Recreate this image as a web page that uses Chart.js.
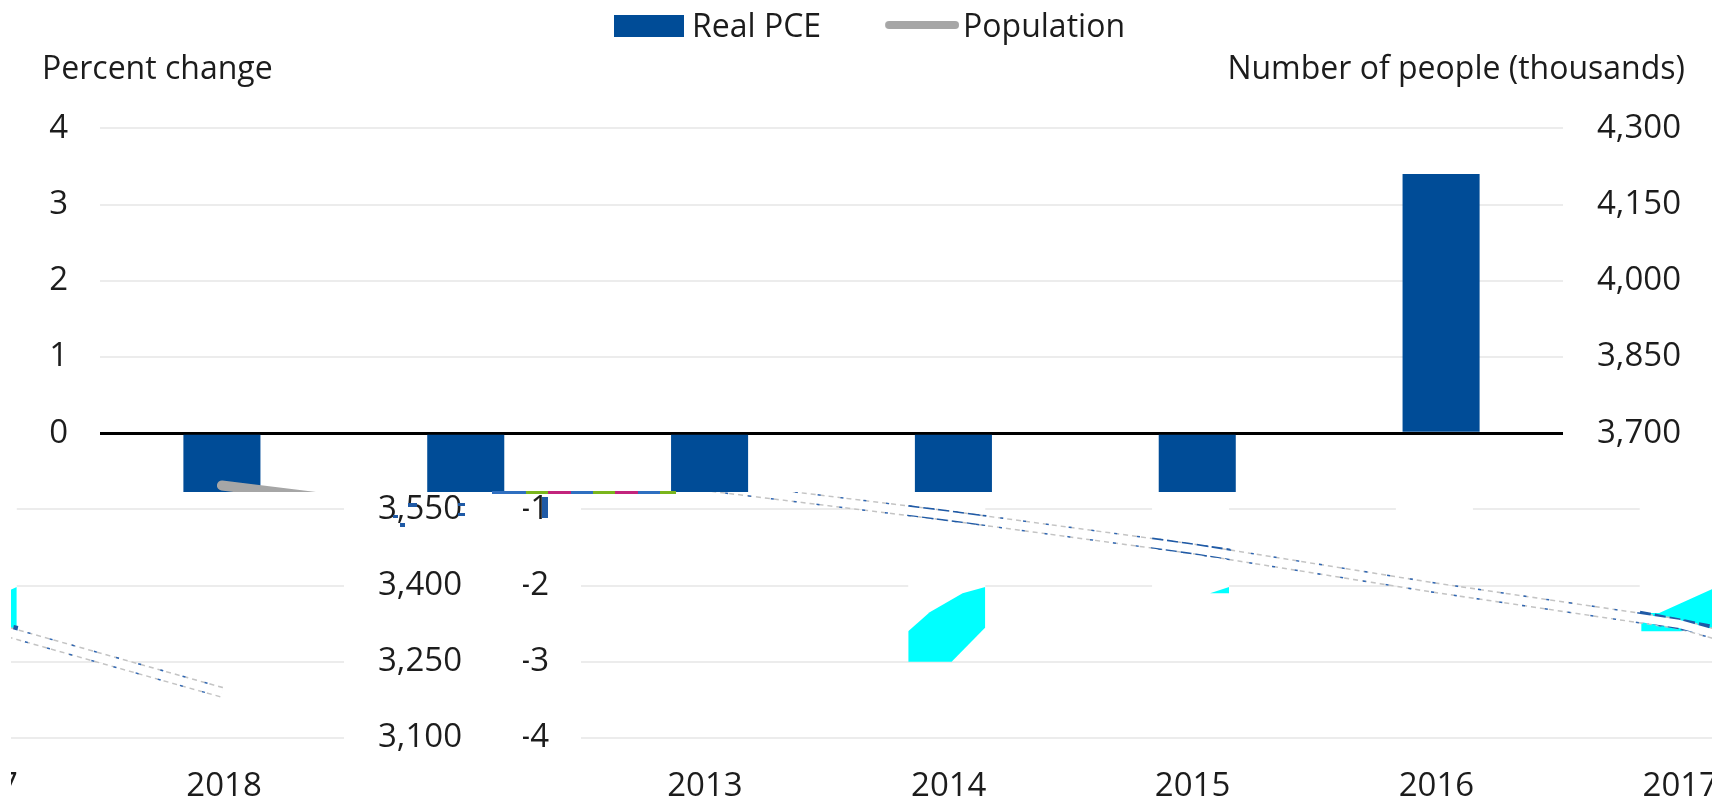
<!DOCTYPE html>
<html><head><meta charset="utf-8">
<style>
html,body{margin:0;padding:0;background:#fff;width:1730px;height:803px;overflow:hidden}
.frame{position:absolute;overflow:hidden}
canvas{position:absolute}
</style>
<script src="https://cdn.jsdelivr.net/npm/chart.js@4"></script>
</head><body>
<script>
const years = ["2013","2014","2015","2016","2017","2018"];
const realPCE = [-0.8,-2.98,-2.1,-1.5,-2.6,3.4];
const population = [3597,3538,3473,3396,3325,3190];
const leftTicks = {min:-4,max:4,step:1};
const rightTicks = {min:3100,max:4300,step:150};
const populationHeavy = [{x:0.84,y:3548},{x:1.16,y:3528},{x:1.5,y:NaN},{x:1.84,y:3484},{x:2.16,y:3462},{x:3,y:NaN},{x:3.84,y:3340},{x:4.16,y:3310}];
const patch2014Top = [{x:0.842,y:-2.6},{x:0.93,y:-2.35},{x:1.065,y:-2.1},{x:1.158,y:-2.02}];
const patch2014Low = [{x:0.842,y:-3},{x:1.02,y:-3},{x:1.158,y:-2.55}];
const patch2015Top = [{x:2.08,y:-2.1},{x:2.158,y:-2.02}];
const patch2015Low = [{x:2.08,y:-2.1},{x:2.158,y:-2.1}];
const patch2017Top = [{x:3.848,y:-2.36},{x:3.922,y:-2.36},{x:4.158,y:-2.02}];
const patch2017Low = [{x:3.848,y:-2.6},{x:4.01,y:-2.6},{x:4.158,y:-2.55}];

const FONT = "'Open Sans'";
const INK = "#1c1c1c", BLUE = "#004c97", GRAY = "#a6a6a6", CYAN = "#00ffff";

function swatch(w,h,draw){const c=document.createElement('canvas');c.width=w;c.height=h;draw(c.getContext('2d'));return c;}
const swatchPCE = swatch(139,26,g=>{g.fillStyle=BLUE;g.fillRect(69,0,70,22);});
const swatchPop = swatch(147,26,g=>{g.strokeStyle=GRAY;g.lineWidth=8;g.lineCap='round';g.beginPath();g.moveTo(77,10);g.lineTo(143,10);g.stroke();});

const captionPlugin = {id:'caption',
  afterLayout(chart){chart.legend.left=550;},
  afterDraw(chart){
  const g=chart.ctx;g.save();g.font="32px "+FONT;g.fillStyle=INK;g.textAlign='right';g.textBaseline='middle';
  g.fillText("Number of people (thousands)",1685,70);g.restore();}};

function patch(id,data,target){return {type:'line',label:id,data,parsing:false,xAxisID:'x',yAxisID:'y',borderWidth:0,pointRadius:0,
  backgroundColor:CYAN,fill:target,order:8,tension:0};}

function popLine(label,data,color,width,dash,order,noParse){return {type:'line',label,data,parsing:noParse?false:undefined,yAxisID:'y2',xAxisID:'x',
  borderColor:color,backgroundColor:color,borderWidth:width,borderDash:dash,pointRadius:0,tension:0,fill:false,order,borderCapStyle:'butt',spanGaps:false};}

function build(parent,left,top,lower){
  const cv=document.createElement('canvas');cv.width=1730;cv.height=803;
  cv.style.cssText=`left:${left}px;top:${top}px;width:1730px;height:803px`;
  parent.appendChild(cv);
  const datasets=[{type:'bar',label:'Real PCE',data:realPCE,yAxisID:'y',xAxisID:'x',
      backgroundColor:lower?'#ffffff':BLUE,categoryPercentage:1,barPercentage:0.316,order:10}];
  if(lower){
    datasets.push(
      patch('p1',patch2014Top,'+1'),patch('p1b',patch2014Low,false),
      patch('p2',patch2015Top,'+1'),patch('p2b',patch2015Low,false),
      patch('p3',patch2017Top,'+1'),patch('p3b',patch2017Low,false),
      popLine('Population',population,'#c4c4c4',11,[5,4],5),
      popLine('edge',population,'#2f66b2',11,[3,20],4),
      popLine('heavy',populationHeavy,'#1f5aa6',11,[11,4],3,true),
      popLine('inner',population,'#ffffff',8,[],2));
  } else {
    const l=popLine('Population',population,GRAY,10,[],1);l.borderCapStyle='round';datasets.push(l);
  }
  new Chart(cv,{
    data:{labels:years,datasets},
    plugins:[captionPlugin],
    options:{
      responsive:false,animation:false,devicePixelRatio:1,
      layout:{padding:{left:42,right:37,top:9,bottom:0}},
      plugins:{
        tooltip:{enabled:false},
        title:{display:true,text:"Percent change",align:'start',weight:500,color:INK,
          font:{family:FONT,size:32,weight:'400'},padding:{top:-3,bottom:39}},
        legend:{display:true,position:'top',align:'start',
          labels:{usePointStyle:true,pointStyleWidth:123,boxHeight:22,padding:3,color:INK,
            font:{family:FONT,size:32,weight:'400'},
            generateLabels(chart){
              return Chart.defaults.plugins.legend.labels.generateLabels(chart)
               .filter(i=>i.text==='Real PCE'||i.text==='Population')
               .sort((a,b)=>a.text==='Real PCE'?-1:1)
               .map(i=>Object.assign(i,{pointStyle:i.text==='Real PCE'?swatchPCE:swatchPop,lineWidth:0}));
            }}}
      },
      scales:{
        x:{type:'category',offset:true,grid:{display:false,drawTicks:false},border:{display:false},
          afterFit(s){s.height=65;},
          ticks:{color:INK,font:{family:FONT,size:33},padding:29,labelOffset:2,maxRotation:0,autoSkip:false}},
        y:{position:'left',min:leftTicks.min,max:leftTicks.max,afterFit(s){s.width=58;},
          border:{display:false},
          grid:{drawTicks:false,color:c=>c.tick.value===0?'#000000':'#ececec',lineWidth:c=>c.tick.value===0?3:2},
          ticks:{stepSize:leftTicks.step,color:INK,font:{family:FONT,size:33},padding:32}},
        y2:{position:'right',min:rightTicks.min,max:rightTicks.max,afterFit(s){s.width=130;},
          border:{display:false},grid:{display:false,drawTicks:false},
          ticks:{stepSize:rightTicks.step,color:INK,font:{family:FONT,size:33},padding:34,
            callback:v=>Number(v).toLocaleString('en-US')}}
      }
    }
  });
}

function frame(x,y,w,h){const d=document.createElement('div');d.className='frame';
  d.style.cssText=`left:${x}px;top:${y}px;width:${w}px;height:${h}px`;document.body.appendChild(d);return d;}

const upper=frame(0,0,1730,492);
build(upper,0,0,false);
const lowerFrame=frame(11,492,1701,311);
build(lowerFrame,481-11,-492,true);
build(lowerFrame,-1219-11,-492,true);
const strip=frame(492,491,184,3);
strip.style.background="linear-gradient(90deg,#2f6fc0 0 34px,#7ab51d 34px 56px,#c2247c 56px 79px,#2f6fc0 79px 101px,#7ab51d 101px 123px,#c2247c 123px 146px,#2f6fc0 146px 168px,#7ab51d 168px 184px)";
const glitchMarks=[[542,497,6,21],[408,503,9,4],[393,515,5,3],[400,523,5,4],[458,503,7,3],[458,513,7,3]];
glitchMarks.forEach(m=>{frame(m[0],m[1],m[2],m[3]).style.background='#1f5aa6';});
</script>
</body></html>
